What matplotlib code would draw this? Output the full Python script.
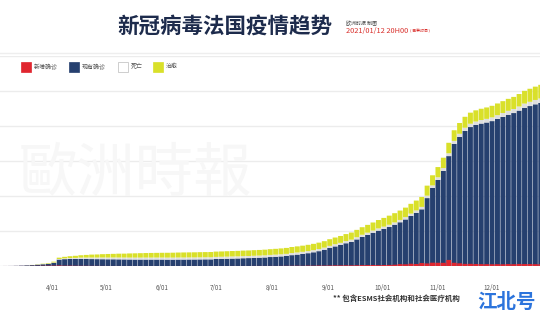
import pandas as pd
import matplotlib
matplotlib.use('Agg')
import matplotlib.pyplot as plt

plt.rcParams['font.family'] = ['Noto Sans CJK SC', 'DejaVu Sans']

# one bar every 3 days, values in thousands
dates = pd.date_range('2020-03-03', periods=101, freq='3D')

active = [0.2, 0.6, 1.2, 2.8, 5.3, 8.9, 12.9, 18.3, 24.9, 31.2,
          45, 92, 98, 100, 100, 101, 100, 99, 98, 97,
          96, 96, 95, 94, 93, 92, 92, 92, 92, 92,
          92, 91, 91, 92, 92, 93, 93, 94, 95, 95,
          100, 102, 104, 106, 108, 111, 113, 116, 119, 122,
          128, 132, 137, 143, 155, 163, 172, 183, 196, 212,
          232, 257, 280, 300, 325, 345, 380, 415, 445, 475,
          505, 530, 557, 590, 625, 665, 715, 760, 810, 970,
          1115, 1230, 1360, 1570, 1745, 1845, 1930, 1985, 2015, 2035,
          2050, 2070, 2100, 2130, 2160, 2185, 2220, 2260, 2285, 2310,
          2330]

deaths = [0.0, 0.01, 0.03, 0.06, 0.13, 0.26, 0.56, 1.1, 2.0, 3.0,
          5.0, 8.1, 10.9, 13.8, 15.7, 18.7, 20.3, 21.9, 22.9, 24.1,
          24.8, 25.5, 26.0, 26.6, 27.4, 28.1, 28.1, 28.3, 28.5, 28.7,
          28.8, 29.0, 29.1, 29.3, 29.4, 29.5, 29.6, 29.7, 29.8, 29.8,
          29.9, 30.0, 30.0, 30.0, 30.1, 30.1, 30.2, 30.2, 30.2, 30.2,
          30.3, 30.3, 30.3, 30.3, 30.4, 30.4, 30.4, 30.5, 30.5, 30.6,
          30.6, 30.7, 30.8, 30.9, 31.0, 31.0, 31.1, 31.2, 31.4, 31.5,
          31.8, 32.0, 32.2, 32.5, 32.8, 33.0, 33.3, 33.6, 34.2, 35.0,
          36.0, 37.4, 39.0, 40.2, 42.2, 43.9, 45.5, 47.5, 48.8, 50.4,
          51.9, 53.5, 54.8, 55.9, 56.9, 57.6, 58.8, 60.2, 61.0, 62.1,
          63.1]

recovered = [0.0, 0.01, 0.01, 0.01, 0.02, 0.6, 1.6, 3.3, 5.7, 8.0,
             12, 19, 22, 26, 30, 34, 38, 42, 44, 48,
             51, 52, 55, 56, 59, 61, 63, 65, 66, 67,
             68, 69, 70, 71, 72, 72, 73, 74, 74, 75,
             76, 76, 77, 78, 78, 79, 79, 80, 80, 81,
             82, 83, 84, 85, 86, 87, 88, 89, 90, 91,
             92, 95, 96, 98, 100, 102, 105, 108, 111, 115,
             120, 125, 130, 132, 134, 136, 140, 141, 142, 143,
             145, 146, 148, 150, 152, 154, 156, 158, 160, 161,
             163, 165, 167, 169, 171, 173, 178, 182, 186, 190,
             195]

new_cases = [0.05, 0.2, 0.3, 0.5, 0.9, 1.1, 1.8, 2.4, 3.8, 4.4,
             5.0, 7.0, 3.9, 4.3, 3.0, 2.6, 2.5, 1.8, 1.6, 1.1,
             0.8, 0.6, 0.8, 0.5, 0.6, 0.4, 0.5, 0.4, 0.5, 0.3,
             0.3, 0.6, 0.3, 0.5, 0.5, 0.4, 0.5, 0.3, 0.5, 0.5,
             0.6, 0.5, 0.5, 0.7, 0.5, 0.7, 0.6, 1.0, 1.1, 0.8,
             1.3, 0.8, 1.6, 2.3, 2.5, 3.3, 2.2, 4.6, 3.9, 6.1,
             5.4, 7.0, 8.9, 8.5, 9.8, 9.2, 10.6, 12.6, 13.0, 14.4,
             12.1, 14.1, 15.5, 18.7, 26.9, 24.6, 32.4, 28.5, 42.0, 36.8,
             47.6, 46.3, 45.6, 86.8, 45.9, 38.1, 30.4, 31.2, 28.1, 27.0,
             26.1, 25.0, 26.0, 24.7, 27.7, 26.0, 29.6, 28.0, 28.0, 26.0,
             25.0]

legend_labels = ['新增确诊', '现有确诊', '死亡', '治愈']
tick_dates = ['2020-04-01', '2020-05-01', '2020-06-01', '2020-07-01',
              '2020-08-01', '2020-09-01', '2020-10-01', '2020-11-01', '2020-12-01']
tick_labels = ['4/01', '5/01', '6/01', '7/01', '8/01', '9/01', '10/01', '11/01', '12/01']

RED = '#e0262f'
NAVY = '#26406f'
DEATH = '#dedede'
YELLOW = '#d9e02a'

fig = plt.figure(figsize=(5.4, 3.2), dpi=100)
ax = fig.add_axes([0, 54 / 320, 1, 210 / 320])

base2 = [a + d for a, d in zip(active, deaths)]
w = 2.75
ax.bar(dates, active, width=w, color=NAVY, linewidth=0, zorder=3, snap=False)
ax.bar(dates, deaths, width=w, bottom=active, color=DEATH, linewidth=0, zorder=3, snap=False)
ax.bar(dates, recovered, width=w, bottom=base2, color=YELLOW, linewidth=0, zorder=3, snap=False)
ax.bar(dates, new_cases, width=w, color=RED, linewidth=0, zorder=4, snap=False)

ax.set_ylim(0, 3000)
ax.set_xlim(pd.Timestamp('2020-03-03 04:00'), pd.Timestamp('2020-12-27 14:00'))
ax.set_yticks([500, 1000, 1500, 2000, 2500, 3000])
ax.yaxis.grid(True, color='#ececec', linewidth=1.0, zorder=0)
ax.tick_params(axis='y', left=False, labelleft=False)
ax.set_xticks(pd.to_datetime(tick_dates))
ax.set_xticklabels(tick_labels, fontsize=4.5, color='#555555')
ax.tick_params(axis='x', length=0, pad=13)
for s in ax.spines.values():
    s.set_visible(False)

# faint background watermark
fig.text(0.25, 0.455, '歐洲時報', fontsize=42, color='#f7f7f7', ha='center', va='center',
         family=['Noto Sans CJK TC', 'DejaVu Sans'], fontweight='light', zorder=0)

# header
fig.text(0.417, 0.915, '新冠病毒法国疫情趋势', fontsize=15.5, fontweight='bold',
         color='#1d2b4c', ha='center', va='center')
fig.text(0.640, 0.927, '欧洲时报 制图', fontsize=3.6, color='#444444', ha='left', va='center')
fig.text(0.640, 0.902, '2021/01/12 20H00', fontsize=5.3, color='#d9302c', ha='left', va='center')
fig.text(0.760, 0.902, '( 巴黎时间 )', fontsize=2.8, color='#d9302c', ha='left', va='center')
fig.add_artist(plt.Line2D([0, 1], [0.835, 0.835], color='#eeeeee', linewidth=1.0))

# legend
leg_x = [21, 69, 118, 153]
leg_colors = [RED, NAVY, 'white', YELLOW]
for lx, lc, lab in zip(leg_x, leg_colors, legend_labels):
    ec = '#bbbbbb' if lc == 'white' else lc
    fig.add_artist(plt.Rectangle((lx / 540, 1 - 72 / 320), 10 / 540, 10 / 320,
                                 facecolor=lc, edgecolor=ec, linewidth=0.5))
    fig.text((lx + 13) / 540, 1 - 66.5 / 320, lab, fontsize=4.3, color='#555555',
             ha='left', va='center')

# footnote
fig.text(333 / 540, 1 - 298 / 320, '** 包含ESMS社会机构和社会医疗机构',
         fontsize=5.4, color='#333333', ha='left', va='center', fontweight='bold')

# corner watermark
fig.text(507 / 540, 1 - 302.5 / 320, '江北号', fontsize=14, fontweight='bold', color='#2c74dc',
         ha='center', va='center')

fig.savefig('out.png', dpi=100)
